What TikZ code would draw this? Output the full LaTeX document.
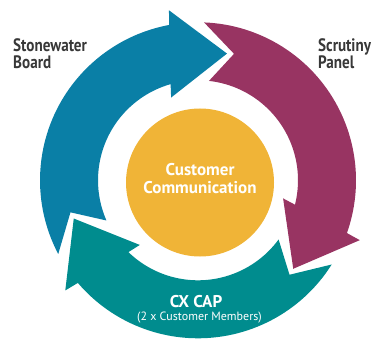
\documentclass[tikz,border=0pt]{standalone}
\usepackage{fontspec}
\setmainfont{PT Sans}
\newfontfamily\narrowlabel{PT Sans}[FakeStretch=0.84]
\definecolor{boardblue}{HTML}{0A7FA6}
\definecolor{panelplum}{HTML}{983462}
\definecolor{capteal}{HTML}{008C8E}
\definecolor{hubyellow}{HTML}{F0B437}
\definecolor{labelgrey}{HTML}{383838}
\begin{document}
\begin{tikzpicture}[x=1pt,y=1pt,
  labeltext/.style={inner sep=0pt,text=labelgrey,font=\narrowlabel\fontsize{18}{18}\selectfont\bfseries},
  hubtext/.style={inner sep=0pt,text=white,font=\fontsize{17}{17}\selectfont\bfseries},
  subtext/.style={inner sep=0pt,text=white,font=\fontsize{12}{12}\selectfont}]
\useasboundingbox (0,0) rectangle (383,338);
\coordinate (C) at (198,157.7);
\coordinate (H) at (200,155.5);
% one curved arrow of the cycle: notched tail, ring body, triangular head
\newcommand\cyclearrowpath{%
  (207.8:158) arc[start angle=207.8, end angle=100.5, radius=158]
  -- (99.7:172.5) -- (77.1:130) -- (108:87) -- (105.9:100)
  arc[start angle=105.9, end angle=203.7, radius=100]
  -- (194.1:131.5) -- cycle}
\fill[boardblue, shift={(C)}] \cyclearrowpath;
\fill[panelplum, shift={(C)}, rotate=-120] \cyclearrowpath;
\fill[capteal, shift={(C)}, rotate=-240] \cyclearrowpath;
% centre disc
\fill[hubyellow] (H) circle[radius=74];
% labels
\node[labeltext, anchor=base west] (board1) at (13,286) {Stonewater};
\node[labeltext, anchor=base west] (board2) at (13,269) {Board};
\node[labeltext, anchor=base west] (panel1) at (318,286) {Scrutiny};
\node[labeltext, anchor=base west] (panel2) at (318,269) {Panel};
\node[hubtext, anchor=base] (hub1) at (200,163) {Customer};
\node[hubtext, anchor=base] (hub2) at (200,145) {Communication};
\node[hubtext, anchor=base] (cap1) at (196,31) {CX CAP};
\node[subtext, anchor=base] (cap2) at (199.5,18) {(2 x Customer Members)};
\end{tikzpicture}
\end{document}
